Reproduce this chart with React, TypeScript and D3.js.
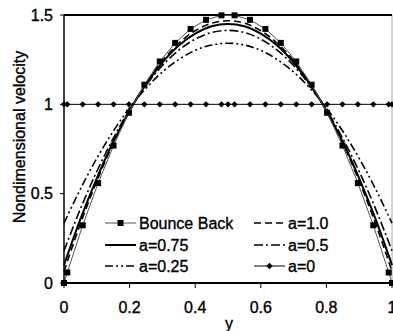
import React from 'react';
import * as d3 from 'd3';

// channel position y (0..1) where the slip curves were read
const yPos = [0, 0.05, 0.1, 0.15, 0.2, 0.25, 0.3, 0.35, 0.4, 0.45, 0.5, 0.55, 0.6, 0.65, 0.7, 0.75, 0.8, 0.85, 0.9, 0.95, 1];
const velA10 = [0.065, 0.332, 0.57, 0.781, 0.963, 1.117, 1.244, 1.342, 1.412, 1.454, 1.468, 1.454, 1.412, 1.342, 1.244, 1.117, 0.963, 0.781, 0.57, 0.332, 0.065];
const velA075 = [0.1, 0.357, 0.586, 0.789, 0.964, 1.113, 1.234, 1.329, 1.396, 1.437, 1.45, 1.437, 1.396, 1.329, 1.234, 1.113, 0.964, 0.789, 0.586, 0.357, 0.1];
const velA05 = [0.18, 0.415, 0.624, 0.809, 0.97, 1.106, 1.217, 1.303, 1.365, 1.402, 1.414, 1.402, 1.365, 1.303, 1.217, 1.106, 0.97, 0.809, 0.624, 0.415, 0.18];
const velA025 = [0.335, 0.526, 0.698, 0.849, 0.98, 1.09, 1.181, 1.251, 1.302, 1.332, 1.342, 1.332, 1.302, 1.251, 1.181, 1.09, 0.98, 0.849, 0.698, 0.526, 0.335];

// lattice nodes
const bbPos = [0, 0.01, 0.057, 0.104, 0.151, 0.198, 0.245, 0.292, 0.339, 0.386, 0.433, 0.48, 0.52, 0.567, 0.614, 0.661, 0.708, 0.755, 0.802, 0.849, 0.896, 0.943, 0.99, 1];
const velBounce = [0, 0.059, 0.323, 0.559, 0.769, 0.953, 1.11, 1.24, 1.344, 1.422, 1.473, 1.498, 1.498, 1.473, 1.422, 1.344, 1.24, 1.11, 0.953, 0.769, 0.559, 0.323, 0.059, 0];
const a0Pos = [0, 0.01, 0.057, 0.104, 0.151, 0.198, 0.245, 0.292, 0.339, 0.386, 0.433, 0.48, 0.5, 0.52, 0.567, 0.614, 0.661, 0.708, 0.755, 0.802, 0.849, 0.896, 0.943, 0.99, 1];
const velA0 = [1, 1, 1, 1, 1, 1, 1, 1, 1, 1, 1, 1, 1, 1, 1, 1, 1, 1, 1, 1, 1, 1, 1, 1, 1];

const xTicks = [0, 0.2, 0.4, 0.6, 0.8, 1];
const yTicks = [0, 0.5, 1, 1.5];

const W = 393, H = 331;
const FONT = '"Liberation Sans", Arial, sans-serif';

export default function App() {
  const x = d3.scaleLinear().domain([0, 1]).range([64, 392]);
  const y = d3.scaleLinear().domain([0, 1.5]).range([283, 15]);

  const smooth = d3.line<number>()
    .x((d, i) => x(yPos[i]))
    .y(d => y(d))
    .curve(d3.curveCatmullRom);

  const bbLine = d3.line<number>().x((d, i) => x(bbPos[i])).y(d => y(d));
  const a0Line = d3.line<number>().x((d, i) => x(a0Pos[i])).y(d => y(d));

  const slip = [
    { name: 'a=1.0', vals: velA10, dash: '7,4', w: 1.6 },
    { name: 'a=0.75', vals: velA075, dash: null, w: 2 },
    { name: 'a=0.5', vals: velA05, dash: '9,3,2,3', w: 1.6 },
    { name: 'a=0.25', vals: velA025, dash: '8,3,2,3,2,3', w: 1.6 },
  ];

  const sq = 6;
  const diamond = (cx: number, cy: number, r: number) =>
    `M${cx},${cy - r}L${cx + r},${cy}L${cx},${cy + r}L${cx - r},${cy}Z`;

  // legend
  const rows = [223, 245, 266];
  const cols = [105, 254];
  const legend = [
    { name: 'Bounce Back', col: 0, row: 0, kind: 'bb' },
    { name: 'a=0.75', col: 0, row: 1, kind: 's', s: slip[1] },
    { name: 'a=0.25', col: 0, row: 2, kind: 's', s: slip[3] },
    { name: 'a=1.0', col: 1, row: 0, kind: 's', s: slip[0] },
    { name: 'a=0.5', col: 1, row: 1, kind: 's', s: slip[2] },
    { name: 'a=0', col: 1, row: 2, kind: 'a0' },
  ];

  const txt = { fontSize: 16, fill: '#000', stroke: '#000', strokeWidth: 0.35 };

  return (
    <svg width={W} height={H} style={{ position: 'absolute', left: 0, top: 0, background: '#fff' }} fontFamily={FONT}>
      {/* frame */}
      <line x1={x(1)} x2={x(1)} y1={y(1.5)} y2={y(0)} stroke="#aaa" strokeWidth={1} />
      <line x1={x(0)} x2={x(1)} y1={y(1.5)} y2={y(1.5)} stroke="#000" strokeWidth={2} />

      {/* slip curves */}
      {slip.map(s => (
        <path key={s.name} d={smooth(s.vals) || ''} fill="none" stroke="#000"
          strokeWidth={s.w} strokeDasharray={s.dash || undefined} />
      ))}

      {/* bounce back */}
      <path d={bbLine(velBounce) || ''} fill="none" stroke="#555" strokeWidth={1} />
      {velBounce.map((v, i) => (
        <rect key={i} x={x(bbPos[i]) - sq / 2} y={y(v) - sq / 2} width={sq} height={sq} fill="#000" />
      ))}

      {/* a=0 */}
      <path d={a0Line(velA0) || ''} fill="none" stroke="#000" strokeWidth={1} />
      {velA0.map((v, i) => (
        <path key={i} d={diamond(x(a0Pos[i]), y(v), 3.2)} fill="#000" />
      ))}

      {/* axes */}
      <line x1={x(0)} x2={x(0)} y1={y(1.5)} y2={y(0)} stroke="#000" strokeWidth={1.5} />
      <line x1={x(0)} x2={x(1)} y1={y(0)} y2={y(0)} stroke="#000" strokeWidth={2} />
      {yTicks.map(t => (
        <g key={t}>
          <line x1={x(0) - 4} x2={x(0)} y1={y(t)} y2={y(t)} stroke="#000" strokeWidth={1} />
          <text x={53} y={y(t)} dy="0.35em" textAnchor="end" {...txt}>{d3.format('~g')(t)}</text>
        </g>
      ))}
      {xTicks.map(t => (
        <g key={t}>
          <line x1={x(t)} x2={x(t)} y1={y(0)} y2={y(0) + 5} stroke="#000" strokeWidth={1} />
          <text x={x(t)} y={307} dy="0.35em" textAnchor="middle" {...txt}>{d3.format('~g')(t)}</text>
        </g>
      ))}
      <text x={229} y={323} dy="0.35em" textAnchor="middle" {...txt}>y</text>
      <text transform="translate(19,137) rotate(-90)" dy="0.35em" textAnchor="middle" {...txt}>Nondimensional velocity</text>

      {/* legend */}
      {legend.map(l => {
        const lx = cols[l.col], ly = rows[l.row];
        return (
          <g key={l.name}>
            {l.kind === 'bb' && <>
              <line x1={lx} x2={lx + 31} y1={ly} y2={ly} stroke="#555" strokeWidth={1} />
              <rect x={lx + 15.5 - sq / 2} y={ly - sq / 2} width={sq} height={sq} fill="#000" />
            </>}
            {l.kind === 'a0' && <>
              <line x1={lx} x2={lx + 31} y1={ly} y2={ly} stroke="#000" strokeWidth={1} />
              <path d={diamond(lx + 15.5, ly, 3.2)} fill="#000" />
            </>}
            {l.kind === 's' && l.s &&
              <line x1={lx} x2={lx + 31} y1={ly} y2={ly} stroke="#000" strokeWidth={l.s.w}
                strokeDasharray={l.s.dash || undefined} />}
            <text x={lx + 34} y={ly} dy="0.35em" {...txt}>{l.name}</text>
          </g>
        );
      })}
    </svg>
  );
}
